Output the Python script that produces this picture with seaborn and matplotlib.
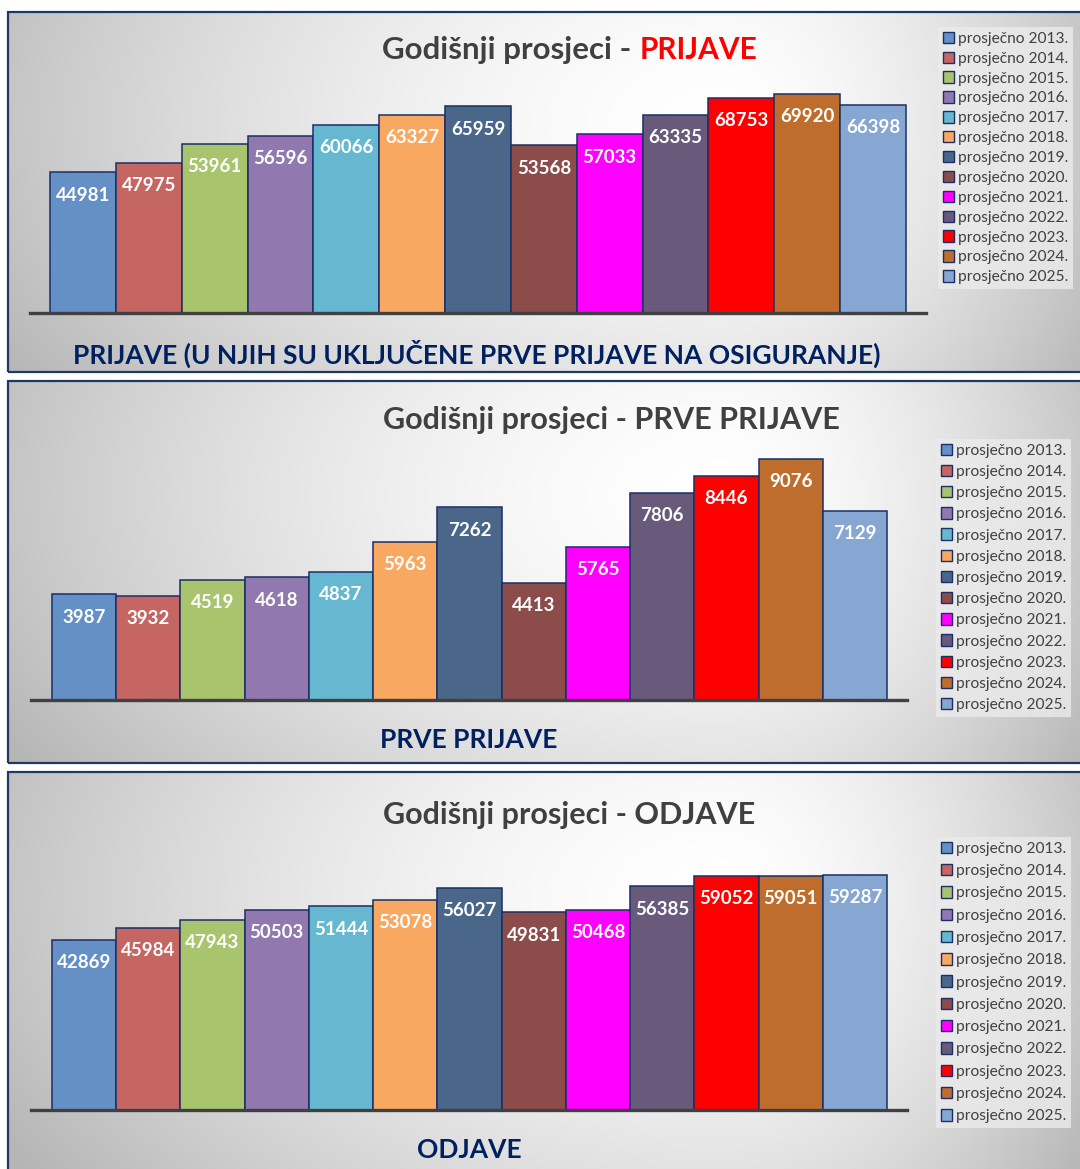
import numpy as np
import pandas as pd
import matplotlib
matplotlib.use("Agg")
import matplotlib.pyplot as plt
from matplotlib.patches import Rectangle, Patch
import seaborn as sns

# ---------------- data ----------------
years = ["2013", "2014", "2015", "2016", "2017", "2018", "2019",
         "2020", "2021", "2022", "2023", "2024", "2025"]
legend_labels = [f"prosječno {y}." for y in years]
prijave = [44981, 47975, 53961, 56596, 60066, 63327, 65959,
           53568, 57033, 63335, 68753, 69920, 66398]
prve_prijave = [3987, 3932, 4519, 4618, 4837, 5963, 7262,
                4413, 5765, 7806, 8446, 9076, 7129]
odjave = [42869, 45984, 47943, 50503, 51444, 53078, 56027,
          49831, 50468, 56385, 59052, 59051, 59287]
bar_colors = ["#6490C6", "#C56663", "#A8C46D", "#9179AF", "#65B8CF",
              "#F9A862", "#4A6789", "#8B4C4A", "#FF00FF", "#695A7B",
              "#FF0000", "#BE6D2D", "#86A7D1"]

sns.set_theme(style="white")
plt.rcParams["font.family"] = ["Lato", "DejaVu Sans"]

W, H = 1080, 1169
fig = plt.figure(figsize=(W / 100, H / 100), dpi=100)
fig.patch.set_facecolor("white")

NAVY = "#1F3864"
EDGE = "#1B2F66"
TITLE_GREY = "#404040"
LABEL_BLUE = "#002060"


def fx(px):
    return px / W


def fy(py):
    return 1 - py / H


def add_axes_px(x0, y0, x1, y1, **kw):
    return fig.add_axes([fx(x0), fy(y1), (x1 - x0) / W, (y1 - y0) / H], **kw)


def panel_background(x0, y0, x1, y1, cx_frac=0.66, cy_frac=0.3):
    ax = add_axes_px(x0, y0, x1, y1, zorder=0)
    pw, ph = int(x1 - x0), int(y1 - y0)
    xs = np.arange(pw)[None, :]
    ys = np.arange(ph)[:, None]
    cx, cy = cx_frac * pw, cy_frac * ph
    rx = np.where(xs < cx, 720.0, 380.0)
    d = np.sqrt(((xs - cx) / rx) ** 2 + ((ys - cy) / 430.0) ** 2)
    v = 1 - 0.23 * np.clip(d, 0, 1.15) ** 1.6
    img = np.dstack([v, v, v])
    ax.imshow(img, aspect="auto", extent=(0, 1, 0, 1), origin="upper")
    ax.set_axis_off()
    fig.patches.append(Rectangle((fx(x0), fy(y1)), (x1 - x0) / W, (y1 - y0) / H,
                                 transform=fig.transFigure, fill=False,
                                 edgecolor=NAVY, linewidth=1.6, zorder=5))


def bar_panel(values, ax_box, bar_span, ymax, legend_top, labelspacing):
    x0, y0, x1, y1 = ax_box
    bx0, bx1 = bar_span
    ax = add_axes_px(x0, y0, x1, y1, zorder=2)
    ax.patch.set_alpha(0)
    df = pd.DataFrame({"year": years, "value": values})
    sns.barplot(data=df, x="year", y="value", hue="year", palette=bar_colors,
                dodge=False, width=1.0, saturation=1, edgecolor=EDGE,
                linewidth=1.1, legend=False, ax=ax)
    slot = (bx1 - bx0) / len(values)
    ax.set_xlim(-0.5 - (bx0 - x0) / slot, len(values) - 0.5 + (x1 - bx1) / slot)
    ax.set_ylim(0, ymax)
    ax.set_xlabel("")
    ax.set_ylabel("")
    ax.set_xticks([])
    ax.set_yticks([])
    for s in ["top", "left", "right"]:
        ax.spines[s].set_visible(False)
    ax.spines["bottom"].set_color("#404040")
    ax.spines["bottom"].set_linewidth(2.4)
    for p, v in zip(ax.patches, values):
        ax.annotate(f"{v}", xy=(p.get_x() + p.get_width() / 2, p.get_height()),
                    xytext=(0, -16.5), textcoords="offset points",
                    ha="center", va="center", color="white",
                    fontsize=13.5, fontweight="bold")
    handles = [Patch(facecolor=c, edgecolor=EDGE, linewidth=1.0) for c in bar_colors]
    leg = fig.legend(handles, legend_labels, loc="upper left",
                     bbox_to_anchor=(fx(legend_top[0]), fy(legend_top[1])),
                     frameon=True, fancybox=False, fontsize=11.2,
                     handlelength=0.7, handleheight=0.75, handletextpad=0.3,
                     labelspacing=labelspacing, borderpad=0.3,
                     borderaxespad=0, labelcolor="#404040")
    leg.get_frame().set_facecolor("#EBEBEB")
    leg.get_frame().set_edgecolor("#EBEBEB")
    leg.get_frame().set_linewidth(0)
    leg.set_zorder(6)
    return ax


# ---------------- panel 1 ----------------
panel_background(8, 12, 1088, 372)
bar_panel(prijave, (30, 80, 926, 313), (50, 906), 74390, (938, 27), 0.37)
fig.text(fx(631), fy(50), "Godišnji prosjeci -", ha="right", va="center",
         fontsize=22.5, fontweight="bold", color=TITLE_GREY)
fig.text(fx(640), fy(50), "PRIJAVE", ha="left", va="center",
         fontsize=21.5, fontweight="bold", color="#FF0000")
fig.text(fx(477), fy(354), "PRIJAVE (U NJIH SU UKLJUČENE PRVE PRIJAVE NA OSIGURANJE)",
         ha="center", va="center", fontsize=19, fontweight="bold",
         color=LABEL_BLUE)

# ---------------- panel 2 ----------------
panel_background(8, 381, 1088, 763)
bar_panel(prve_prijave, (31, 440, 907, 700), (52, 887), 9790, (936, 439), 0.455)
fig.text(fx(611), fy(420), "Godišnji prosjeci - PRVE PRIJAVE", ha="center",
         va="center", fontsize=22, fontweight="bold", color=TITLE_GREY)
fig.text(fx(469), fy(740), "PRVE PRIJAVE", ha="center", va="center",
         fontsize=19, fontweight="bold", color=LABEL_BLUE)

# ---------------- panel 3 ----------------
panel_background(8, 772, 1088, 1180)
bar_panel(odjave, (31, 860, 907, 1110), (52, 887), 63070, (936, 837), 0.525)
fig.text(fx(569), fy(815), "Godišnji prosjeci - ODJAVE", ha="center",
         va="center", fontsize=22, fontweight="bold", color=TITLE_GREY)
fig.text(fx(469), fy(1150), "ODJAVE", ha="center", va="center",
         fontsize=19, fontweight="bold", color=LABEL_BLUE)

fig.savefig("out.png", dpi=100)
